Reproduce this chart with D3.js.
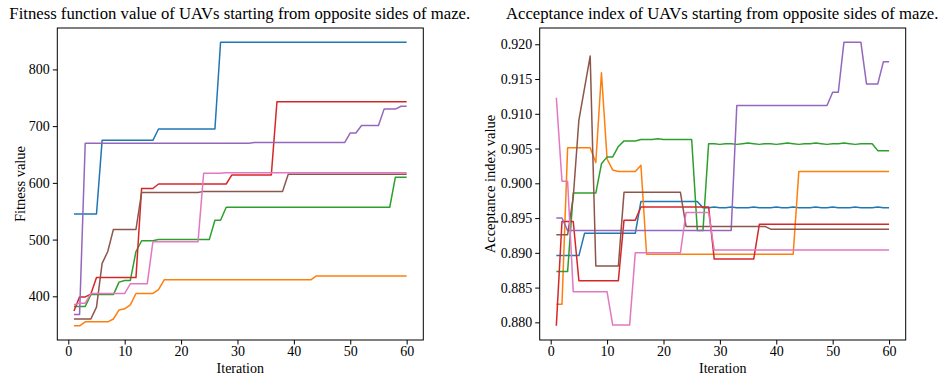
<!DOCTYPE html>
<html>
  <head>
    <meta charset="utf-8" />
    <script src="https://cdn.jsdelivr.net/npm/d3@7"></script>
    <style>
      body { margin: 0; background: #fff; }
      svg text { font-family: "Liberation Serif", serif; fill: #000; }
      .spine { fill: none; stroke: #000; stroke-width: 1; }
      .series { fill: none; stroke-width: 1.5; stroke-linejoin: round; }
      .tick line { stroke: #000; }
      .domain { display: none; }
    </style>
  </head>
  <body>
    <div id="chart"></div>
    <script type="text/javascript">
      var w = 939, h = 376;
      var serif = "'Liberation Serif', serif";

      var iterations = d3.range(1, 61);
      var xTicks = [0, 10, 20, 30, 40, 50, 60];
      var fitTicks = [400, 500, 600, 700, 800];
      var accTicks = [0.880, 0.885, 0.890, 0.895, 0.900, 0.905, 0.910, 0.915, 0.920];
      var colors = ["#1f77b4", "#ff7f0e", "#2ca02c", "#d62728", "#9467bd", "#8c564b", "#e377c2"];

      // fitness value, one entry per iteration 1..60
      var fitBlue = [545,545,545,545,545, 675,675,675,675,675,675,675,675,675,675,
        695,695,695,695,695,695,695,695,695,695,695,
        848,848,848,848,848,848,848,848,848,848,848,848,848,848,848,848,848,848,848,848,848,848,848,848,848,848,848,848,848,848,848,848,848,848];
      var fitOrange = [348,348, 355,355,355,355,355, 360, 376, 378, 385, 405,405,405,405, 412,
        429,429,429,429,429,429,429,429,429,429,429,429,429,429,429,429,429,429,429,429,429,429,429,429,429,429,429,
        436,436,436,436,436,436,436,436,436,436,436,436,436,436,436,436,436];
      var fitGreen = [382,382,382, 403,403,403,403,403, 425, 428,428, 479, 498,498,498,
        500,500,500,500,500,500,500,500,500,500, 534,534,
        557,557,557,557,557,557,557,557,557,557,557,557,557,557,557,557,557,557,557,557,557,557,557,557,557,557,557,557,557,557,
        610,610,610];
      var fitRed = [374, 399,399, 404, 433,433,433,433,433,433,433,433, 590,590,590,
        598,598,598,598,598,598,598,598,598,598,598,598,598,
        614,614,614,614,614,614,614,614,
        743,743,743,743,743,743,743,743,743,743,743,743,743,743,743,743,743,743,743,743,743,743,743,743];
      var fitPurple = [368,368,
        670,670,670,670,670,670,670,670,670,670,670,670,670,670,670,670,670,670,670,670,670,670,670,670,670,670,670,670,670,670,
        671,671,671,671,671,671,671,671,671,671,671,671,671,671,671,671,671,
        688,688, 701,701,701,701, 730,730,730, 735,735];
      var fitBrown = [360,360,360,360, 381, 458, 479, 518,518,518,518,518,
        583,583,583,583,583,583,583,583,583,583,583,
        585,585,585,585,585,585,585,585,585,585,585,585,585,585,585,
        615,615,615,615,615,615,615,615,615,615,615,615,615,615,615,615,615,615,615,615,615,615];
      var fitPink = [385, 388,388, 405,405,405,405,405,405,405, 422,422,422,422,
        496,496,496,496,496,496,496,496,496, 617,617,617,617,
        618,618,618,618,618,618,618,618,618,618,618,618,618,618,618,618,618,618,618,618,618,618,618,618,618,618,618,618,618,618,618,618,618];

      // acceptance index value, one entry per iteration 1..60
      var accBlue = [0.8896,0.8896,0.8896,0.8896,0.8896,
        0.8928,0.8928,0.8928,0.8928,0.8928,0.8928,0.8928,0.8928,0.8928,0.8928,
        0.8974,0.8974,0.8974,0.8974,0.8974,0.8974,0.8974,0.8974,0.8974,0.8974,0.8974,
        0.8965,0.8965,0.8966,0.8965,0.8965,0.8966,0.8965,0.8965,0.8965,0.8966,0.8965,0.8965,0.8965,0.8966,0.8965,0.8965,0.8966,0.8965,
        0.8965,0.8965,0.8966,0.8965,0.8965,0.8966,0.8965,0.8965,0.8965,0.8966,0.8965,0.8965,0.8965,0.8966,0.8965,0.8965];
      var accOrange = [0.8826,0.8826, 0.9051,0.9051,0.9051,0.9051,0.9051, 0.9030, 0.9159, 0.9035, 0.9019,
        0.9017,0.9017,0.9017,0.9017, 0.9026,
        0.8898,0.8898,0.8898,0.8898,0.8898,0.8898,0.8898,0.8898,0.8898,0.8898,0.8898,0.8898,0.8898,0.8898,
        0.8898,0.8898,0.8898,0.8898,0.8898,0.8898,0.8898,0.8898,0.8898,0.8898,0.8898,0.8898,0.8898,
        0.9017,0.9017,0.9017,0.9017,0.9017,0.9017,0.9017,0.9017,0.9017,0.9017,0.9017,0.9017,0.9017,0.9017,0.9017,0.9017,0.9017];
      var accGreen = [0.8873,0.8873,0.8873, 0.8986,0.8986,0.8986,0.8986,0.8986, 0.9028, 0.9038,0.9038, 0.9053,
        0.9061,0.9061,0.9061, 0.9063,0.9063,0.9063,0.9064,0.9063,0.9063,0.9063,0.9063,0.9063,0.9063,
        0.8932,0.8932,
        0.9057,0.9057,0.9056,0.9057,0.9057,0.9056,0.9057,0.9058,0.9057,0.9056,0.9057,0.9057,0.9056,0.9057,0.9058,
        0.9057,0.9056,0.9057,0.9057,0.9058,0.9057,0.9056,0.9057,0.9057,0.9058,0.9057,0.9056,0.9057,0.9057,0.9057,
        0.9047,0.9047,0.9047];
      var accRed = [0.8795, 0.8945,0.8945,0.8945, 0.8860,0.8860,0.8860,0.8860,0.8860,0.8860,0.8860,0.8860,
        0.8947,0.8947,0.8947,
        0.8966,0.8966,0.8966,0.8966,0.8966,0.8966,0.8966,0.8966,0.8966,0.8966,0.8966,0.8966,0.8966,
        0.8891,0.8891,0.8891,0.8891,0.8891,0.8891,0.8891,0.8891,
        0.8941,0.8941,0.8941,0.8941,0.8941,0.8941,0.8941,0.8941,0.8941,0.8941,0.8941,0.8941,
        0.8941,0.8941,0.8941,0.8941,0.8941,0.8941,0.8941,0.8941,0.8941,0.8941,0.8941,0.8941];
      var accPurple = [0.8950,0.8950,
        0.8932,0.8932,0.8932,0.8932,0.8932,0.8932,0.8932,0.8932,0.8932,0.8932,0.8932,0.8932,0.8932,0.8932,0.8932,
        0.8932,0.8932,0.8932,0.8932,0.8932,0.8932,0.8932,0.8932,0.8932,0.8932,0.8932,0.8932,0.8932,0.8932,0.8932,
        0.9112,0.9112,0.9112,0.9112,0.9112,0.9112,0.9112,0.9112,0.9112,0.9112,0.9112,0.9112,0.9112,0.9112,0.9112,0.9112,0.9112,
        0.9131,0.9131, 0.9203,0.9203,0.9203,0.9203, 0.9143,0.9143,0.9143, 0.9175,0.9175];
      var accBrown = [0.8926,0.8926,0.8926, 0.8980, 0.9091, 0.9137, 0.9183, 0.8881,0.8881,0.8881,0.8881,0.8881,
        0.8987,0.8987,0.8987,0.8987,0.8987,0.8987,0.8987,0.8987,0.8987,0.8987,0.8987,
        0.8938,0.8938,0.8938,0.8938,0.8938,0.8938,0.8938,0.8938,0.8938,0.8938,0.8938,0.8938,0.8938,0.8938,0.8938,
        0.8934,0.8934,0.8934,0.8934,0.8934,0.8934,0.8934,0.8934,0.8934,0.8934,0.8934,
        0.8934,0.8934,0.8934,0.8934,0.8934,0.8934,0.8934,0.8934,0.8934,0.8934,0.8934];
      var accPink = [0.9123, 0.9003,0.9003, 0.8844,0.8844,0.8844,0.8844,0.8844,0.8844,0.8844,
        0.8796,0.8796,0.8796,0.8796,
        0.8900,0.8900,0.8900,0.8900,0.8900,0.8900,0.8900,0.8900,0.8900,
        0.8958,0.8958,0.8958,0.8958,0.8958,
        0.8904,0.8904,0.8904,0.8904,0.8904,0.8904,0.8904,0.8904,0.8904,0.8904,0.8904,0.8904,0.8904,0.8904,0.8904,0.8904,
        0.8904,0.8904,0.8904,0.8904,0.8904,0.8904,0.8904,0.8904,0.8904,0.8904,0.8904,0.8904,0.8904,0.8904,0.8904,0.8904];

      var fitSeries = [fitBlue, fitOrange, fitGreen, fitRed, fitPurple, fitBrown, fitPink];
      var accSeries = [accBlue, accOrange, accGreen, accRed, accPurple, accBrown, accPink];

      var svg = d3.select("#chart").append("svg")
        .attr("width", w)
        .attr("height", h)
        .attr("font-family", serif);

      // matplotlib-like 5% margins around the data
      function padded(ext) {
        var m = (ext[1] - ext[0]) * 0.05;
        return [ext[0] - m, ext[1] + m];
      }

      function styleAxis(a) {
        a.attr("font-family", serif).attr("font-size", 14);
        a.selectAll("text").style("font-family", serif).style("font-size", "14px");
      }

      function panel(opts) {
        var x = d3.scaleLinear().domain(padded(d3.extent(iterations))).range([opts.left, opts.right]);
        var all = [].concat.apply([], opts.series);
        var y = d3.scaleLinear().domain(padded(d3.extent(all))).range([opts.bottom, opts.top]);

        var g = svg.append("g");

        opts.series.forEach(function(s, k) {
          g.append("path")
            .datum(s)
            .attr("class", "series")
            .attr("stroke", colors[k])
            .attr("d", d3.line()
              .x(function(d, i) { return x(iterations[i]); })
              .y(function(d) { return y(d); }));
        });

        g.append("rect")
          .attr("class", "spine")
          .attr("x", opts.left)
          .attr("y", opts.top)
          .attr("width", opts.right - opts.left)
          .attr("height", opts.bottom - opts.top);

        g.append("g")
          .attr("transform", "translate(0," + opts.bottom + ")")
          .call(d3.axisBottom(x).tickValues(xTicks).tickSize(4.5).tickPadding(2))
          .call(styleAxis);

        g.append("g")
          .attr("transform", "translate(" + opts.left + ",0)")
          .call(d3.axisLeft(y).tickValues(opts.yTicks).tickFormat(opts.fmt).tickSize(4.5).tickPadding(3))
          .call(styleAxis);

        svg.append("text")
          .attr("x", (opts.left + opts.right) / 2 - 0.5)
          .attr("y", 19)
          .attr("text-anchor", "middle")
          .style("font-family", serif)
          .style("font-size", "16.7px")
          .text(opts.title);

        svg.append("text")
          .attr("x", (opts.left + opts.right) / 2)
          .attr("y", 372.5)
          .attr("text-anchor", "middle")
          .style("font-family", serif)
          .style("font-size", "14px")
          .text("Iteration");

        svg.append("text")
          .attr("transform", "translate(" + opts.ylabelX + "," + (opts.top + opts.bottom) / 2 + ") rotate(-90)")
          .attr("text-anchor", "middle")
          .style("font-family", serif)
          .style("font-size", "14.5px")
          .text(opts.ylabel);
      }

      panel({
        left: 57.3, right: 423.3, top: 28, bottom: 340,
        series: fitSeries, yTicks: fitTicks, fmt: d3.format("d"),
        title: "Fitness function value of UAVs starting from opposite sides of maze.",
        ylabel: "Fitness value", ylabelX: 25
      });

      panel({
        left: 539.7, right: 905.7, top: 28, bottom: 340,
        series: accSeries, yTicks: accTicks, fmt: d3.format(".3f"),
        title: "Acceptance index of UAVs starting from opposite sides of maze.",
        ylabel: "Acceptance index value", ylabelX: 495
      });
    </script>
  </body>
</html>
